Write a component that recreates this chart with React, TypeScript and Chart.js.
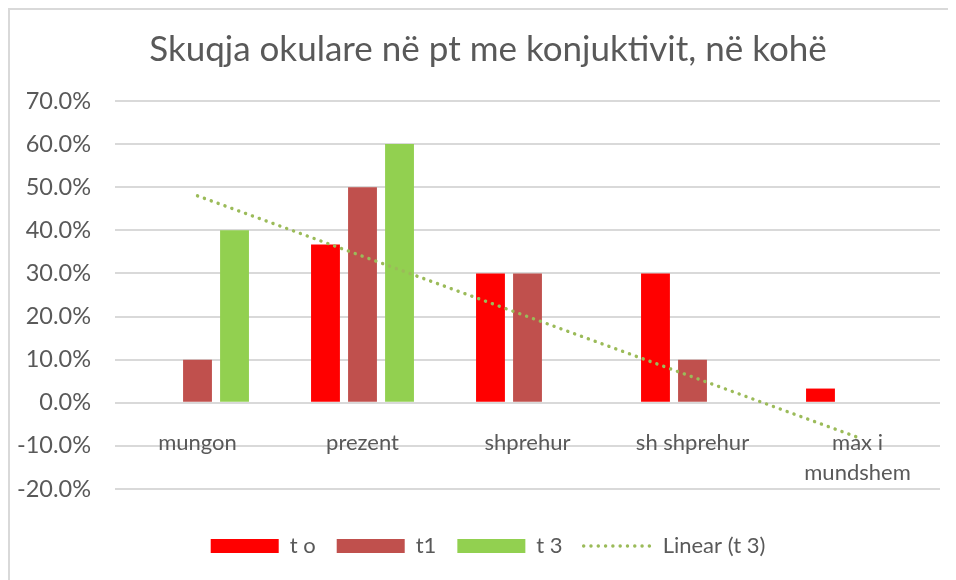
import React, { useEffect, useRef } from "react";
import { Chart, registerables } from "chart.js";

Chart.register(...registerables);

const categories: (string | string[])[] = ["mungon", "prezent", "shprehur", "sh shprehur", ["max i", "mundshem"]];
const seriesT0 = [0, 36.7, 30, 30, 3.3];
const seriesT1 = [10, 50, 30, 10, 0];
const seriesT3 = [40, 60, 0, 0, 0];
const trendT3 = [48, 34, 20, 6, -8];
const yTicks = { min: -20, max: 70, step: 10 };

const FONT = "Lato";
const TEXT = "#595959";
const TREND_COLOR = "#9BBB59";
const TREND_DASH = [0.1, 7.2];
const TREND_WIDTH = 3.4;

export default function App() {
  const ref = useRef<HTMLCanvasElement | null>(null);
  useEffect(() => {
    document.body.style.overflow = "hidden";
    const ctx = ref.current!;
    const chart = new Chart(ctx, {
      type: "bar",
      data: {
        labels: categories,
        datasets: [
          { label: "t o", data: seriesT0, backgroundColor: "#FF0000", borderWidth: 0, pointStyle: "rect", order: 1 },
          { label: "t1", data: seriesT1, backgroundColor: "#C0504D", borderWidth: 0, pointStyle: "rect", order: 1 },
          { label: "t 3", data: seriesT3, backgroundColor: "#92D050", borderWidth: 0, pointStyle: "rect", order: 1 },
          {
            type: "line",
            label: "Linear (t 3)",
            data: trendT3,
            borderColor: TREND_COLOR,
            backgroundColor: TREND_COLOR,
            borderWidth: TREND_WIDTH,
            borderDash: TREND_DASH,
            borderCapStyle: "round",
            pointRadius: 0,
            pointStyle: "line",
            fill: false,
            order: -1,
          } as any,
        ],
      },
      options: {
        animation: false,
        responsive: false,
        maintainAspectRatio: false,
        layout: { padding: { left: 0, right: 0, top: 0, bottom: 13 } },
        datasets: { bar: { barPercentage: 0.78, categoryPercentage: 0.673 } } as any,
        plugins: {
          tooltip: { enabled: false },
          title: {
            display: true,
            text: "Skuqja okulare në pt me konjuktivit, në kohë",
            color: TEXT,
            font: { family: FONT, size: 35, weight: "normal" },
            padding: { top: 19, bottom: 30 },
          },
          legend: {
            position: "bottom",
            title: { display: true, text: " ", font: { size: 1, lineHeight: 1 }, padding: { top: 24, bottom: 0 } },
            labels: {
              usePointStyle: true,
              pointStyleWidth: 68,
              boxHeight: 14,
              padding: 21,
              color: TEXT,
              font: { family: FONT, size: 22 },
              sort: (a: any, b: any) => a.datasetIndex - b.datasetIndex,
              generateLabels: (c: any) => {
                const items = (Chart.defaults.plugins.legend.labels as any).generateLabels(c);
                return items.map((it: any) => {
                  if (it.datasetIndex === 3) {
                    return {
                      ...it,
                      pointStyle: "line",
                      strokeStyle: TREND_COLOR,
                      fillStyle: TREND_COLOR,
                      lineWidth: TREND_WIDTH,
                      lineDash: TREND_DASH,
                      lineCap: "round",
                    };
                  }
                  return { ...it, lineWidth: 0 };
                });
              },
            },
          },
        },
        scales: {
          x: {
            position: { y: 0 } as any,
            grid: { display: false },
            border: { display: false },
            ticks: {
              color: TEXT,
              font: { family: FONT, size: 22, lineHeight: 1.36 },
              padding: 17,
              maxRotation: 0,
              autoSkip: false,
            },
          },
          y: {
            min: yTicks.min,
            max: yTicks.max,
            grid: { color: "#D9D9D9", lineWidth: 2, drawTicks: false },
            border: { display: false },
            ticks: {
              stepSize: yTicks.step,
              color: TEXT,
              font: { family: FONT, size: 23.5 },
              padding: 24,
              callback: (v: any) => Number(v).toFixed(1) + "%",
            },
            afterFit: (s: any) => {
              s.width = 105;
            },
          },
          yRight: {
            type: "linear",
            position: "right",
            display: true,
            grid: { display: false, drawTicks: false },
            border: { display: false },
            ticks: { display: false },
            afterFit: (s: any) => {
              s.width = 26;
            },
          },
        },
      },
    });
    return () => chart.destroy();
  }, []);
  return (
    <div
      style={{
        width: 956,
        height: 572,
        borderLeft: "2px solid #D9D9D9",
        borderTop: "2px solid #D9D9D9",
        background: "#fff",
      }}
    >
      <canvas ref={ref} width={956} height={570} style={{ display: "block" }} />
    </div>
  );
}
